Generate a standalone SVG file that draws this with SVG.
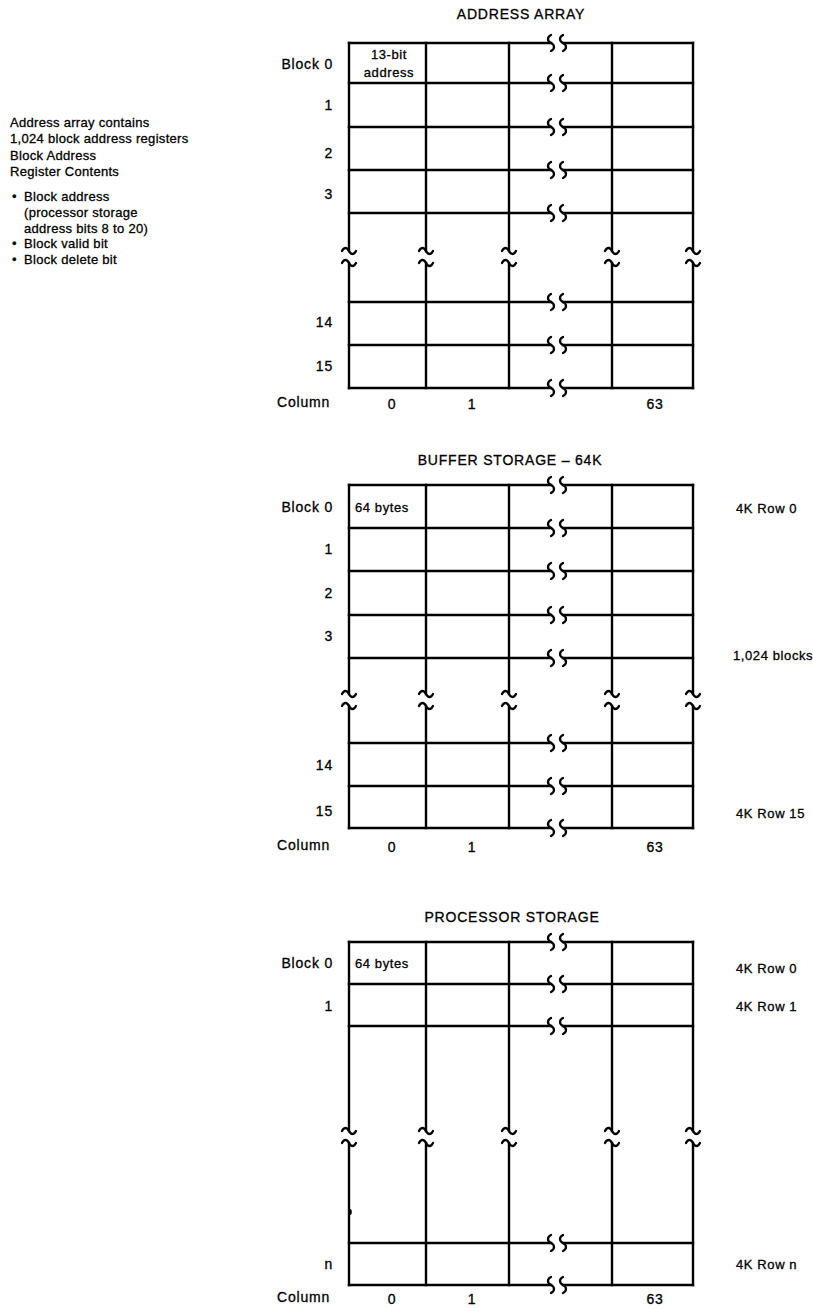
<svg xmlns="http://www.w3.org/2000/svg" width="813" height="1308" viewBox="0 0 813 1308">
<style>
.ln{stroke:#000;stroke-width:2.4;fill:none;stroke-linecap:square}
.sq{stroke:#000;stroke-width:2.3;fill:none;stroke-linecap:round}
.t{font-family:"Liberation Sans",Arial,sans-serif;font-size:13px;fill:#000;stroke:#000;stroke-width:0.3;letter-spacing:0.3px}
.l{font-size:14px;letter-spacing:0.8px}
.r{font-size:13px;letter-spacing:0.6px}
.e{text-anchor:end}
.m{text-anchor:middle}
</style>
<defs>
<g id="hb"><path class="sq" d="M-6,-8 C-10,-6 -10,-2 -6,0 C-2,2 -2,6 -6,8 M6,-8 C2,-6 2,-2 6,0 C10,2 10,6 6,8"/></g>
<g id="vb"><path class="sq" d="M-7,-6 C-5,-10 -2,-10 0,-6 C2,-2 5,-2 7,-6 M-7,6 C-5,2 -2,2 0,6 C2,10 5,10 7,6"/></g>
</defs>
<rect width="813" height="1308" fill="#fff"/>

<g id="notes">
<text class="t" x="10" y="127">Address array contains</text>
<text class="t" x="10" y="143">1,024 block address registers</text>
<text class="t" x="10" y="160">Block Address</text>
<text class="t" x="10" y="176">Register Contents</text>
<text class="t" x="12" y="201">•</text><text class="t" x="24" y="201">Block address</text>
<text class="t" x="24" y="217">(processor storage</text>
<text class="t" x="24" y="233">address bits 8 to 20)</text>
<text class="t" x="12" y="248">•</text><text class="t" x="24" y="248">Block valid bit</text>
<text class="t" x="12" y="264">•</text><text class="t" x="24" y="264">Block delete bit</text>
</g>

<!-- ADDRESS ARRAY -->
<g id="address-array">
<text class="t l m" x="521" y="19">ADDRESS ARRAY</text>
<g class="ln">
<path d="M349,43V251M426,43V251M509,43V251M612,43V251M693,43V251"/>
<path d="M349,263V388M426,263V388M509,263V388M612,263V388M693,263V388"/>
<path d="M349,43H551M563,43H693M349,83H551M563,83H693M349,127H551M563,127H693M349,170H551M563,170H693M349,213H551M563,213H693"/>
<path d="M349,302H551M563,302H693M349,345H551M563,345H693M349,388H551M563,388H693"/>
</g>
<use href="#hb" x="557" y="43"/><use href="#hb" x="557" y="83"/><use href="#hb" x="557" y="127"/><use href="#hb" x="557" y="170"/><use href="#hb" x="557" y="213"/>
<use href="#hb" x="557" y="302"/><use href="#hb" x="557" y="345"/><use href="#hb" x="557" y="388"/>
<use href="#vb" x="349" y="257"/><use href="#vb" x="426" y="257"/><use href="#vb" x="509" y="257"/><use href="#vb" x="612" y="257"/><use href="#vb" x="693" y="257"/>
<text class="t r m" x="389" y="59">13-bit</text>
<text class="t r m" x="389" y="77">address</text>
<text class="t l e" x="333" y="69">Block 0</text>
<text class="t l e" x="333" y="110">1</text>
<text class="t l e" x="333" y="158">2</text>
<text class="t l e" x="333" y="199">3</text>
<text class="t l e" x="333" y="327">14</text>
<text class="t l e" x="333" y="371">15</text>
<text class="t l" x="277" y="407">Column</text>
<text class="t l m" x="392" y="409">0</text>
<text class="t l m" x="472" y="409">1</text>
<text class="t l m" x="655" y="409">63</text>
</g>

<!-- BUFFER STORAGE -->
<g id="buffer-storage">
<text class="t l m" x="510" y="465">BUFFER STORAGE – 64K</text>
<g class="ln">
<path d="M349,485V694M426,485V694M509,485V694M612,485V694M693,485V694"/>
<path d="M349,706V828M426,706V828M509,706V828M612,706V828M693,706V828"/>
<path d="M349,485H551M563,485H693M349,528H551M563,528H693M349,571H551M563,571H693M349,615H551M563,615H693M349,658H551M563,658H693"/>
<path d="M349,743H551M563,743H693M349,786H551M563,786H693M349,828H551M563,828H693"/>
</g>
<use href="#hb" x="557" y="485"/><use href="#hb" x="557" y="528"/><use href="#hb" x="557" y="571"/><use href="#hb" x="557" y="615"/><use href="#hb" x="557" y="658"/>
<use href="#hb" x="557" y="743"/><use href="#hb" x="557" y="786"/><use href="#hb" x="557" y="828"/>
<use href="#vb" x="349" y="700"/><use href="#vb" x="426" y="700"/><use href="#vb" x="509" y="700"/><use href="#vb" x="612" y="700"/><use href="#vb" x="693" y="700"/>
<text class="t r" x="355" y="512">64 bytes</text>
<text class="t l e" x="333" y="512">Block 0</text>
<text class="t l e" x="333" y="554">1</text>
<text class="t l e" x="333" y="598">2</text>
<text class="t l e" x="333" y="641">3</text>
<text class="t l e" x="333" y="770">14</text>
<text class="t l e" x="333" y="816">15</text>
<text class="t l" x="277" y="850">Column</text>
<text class="t l m" x="392" y="852">0</text>
<text class="t l m" x="472" y="852">1</text>
<text class="t l m" x="655" y="852">63</text>
<text class="t r" x="736" y="513">4K Row 0</text>
<text class="t r" x="733" y="660">1,024 blocks</text>
<text class="t r" x="736" y="818">4K Row 15</text>
</g>

<!-- PROCESSOR STORAGE -->
<g id="processor-storage">
<text class="t l m" x="512" y="922">PROCESSOR STORAGE</text>
<g class="ln">
<path d="M349,942V1131M426,942V1131M509,942V1131M612,942V1131M693,942V1131"/>
<path d="M349,1143V1285M426,1143V1285M509,1143V1285M612,1143V1285M693,1143V1285"/>
<path d="M349,942H551M563,942H693M349,984H551M563,984H693M349,1026H551M563,1026H693"/>
<path d="M349,1243H551M563,1243H693M349,1285H551M563,1285H693"/>
</g>
<use href="#hb" x="557" y="942"/><use href="#hb" x="557" y="984"/><use href="#hb" x="557" y="1026"/>
<use href="#hb" x="557" y="1243"/><use href="#hb" x="557" y="1285"/>
<use href="#vb" x="349" y="1137"/><use href="#vb" x="426" y="1137"/><use href="#vb" x="509" y="1137"/><use href="#vb" x="612" y="1137"/><use href="#vb" x="693" y="1137"/>
<ellipse cx="350" cy="1212" rx="1.8" ry="3" fill="#000"/>
<text class="t r" x="355" y="968">64 bytes</text>
<text class="t l e" x="333" y="968">Block 0</text>
<text class="t l e" x="333" y="1011">1</text>
<text class="t l e" x="333" y="1269">n</text>
<text class="t l" x="277" y="1302">Column</text>
<text class="t l m" x="392" y="1304">0</text>
<text class="t l m" x="472" y="1304">1</text>
<text class="t l m" x="655" y="1304">63</text>
<text class="t r" x="736" y="973">4K Row 0</text>
<text class="t r" x="736" y="1011">4K Row 1</text>
<text class="t r" x="736" y="1269">4K Row n</text>
</g>
</svg>
